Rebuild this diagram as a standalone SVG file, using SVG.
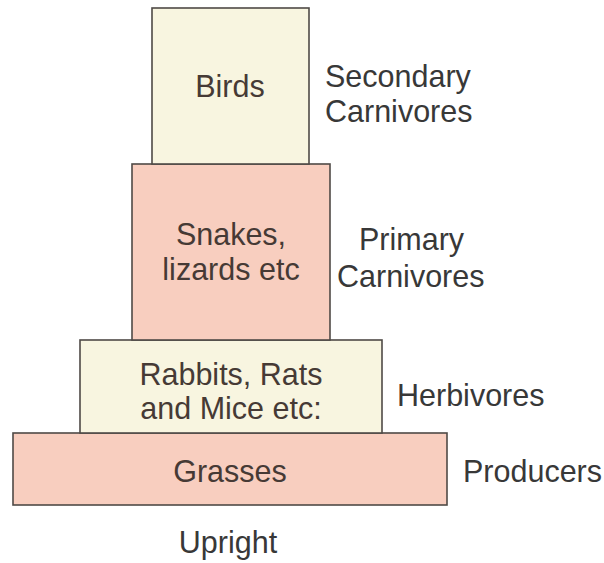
<svg xmlns="http://www.w3.org/2000/svg" width="604" height="563" viewBox="0 0 604 563">
<style>
.box{stroke:#4f4a46;stroke-width:1.6}
.cream{fill:#f8f5e0}
.pink{fill:#f8cebf}
.in{font-family:"Liberation Sans",Arial,sans-serif;font-size:30.5px;fill:#463a35;text-anchor:middle}
.lab{font-family:"Liberation Sans",Arial,sans-serif;font-size:30.5px;fill:#383838}
</style>
<rect width="604" height="563" fill="#ffffff"/>
<g id="grasses">
<rect class="box pink" x="13" y="433" width="434" height="72"/>
<text class="in" x="230" y="482">Grasses</text>
</g>
<g id="rabbits">
<rect class="box cream" x="80" y="340" width="302" height="93"/>
<text class="in" x="231" y="385">Rabbits, Rats</text>
<text class="in" x="231" y="419">and Mice etc:</text>
</g>
<g id="snakes">
<rect class="box pink" x="132" y="164" width="198" height="176"/>
<text class="in" x="231" y="245">Snakes,</text>
<text class="in" x="231" y="280">lizards etc</text>
</g>
<g id="birds">
<rect class="box cream" x="152" y="8" width="157" height="156"/>
<text class="in" x="230" y="97">Birds</text>
</g>
<g id="labels">
<text class="lab" x="325" y="87">Secondary</text>
<text class="lab" x="325" y="122">Carnivores</text>
<text class="lab" x="359" y="250">Primary</text>
<text class="lab" x="337" y="287">Carnivores</text>
<text class="lab" x="397" y="406">Herbivores</text>
<text class="lab" x="463" y="482">Producers</text>
<text class="lab" x="228" y="553" text-anchor="middle">Upright</text>
</g>
</svg>
